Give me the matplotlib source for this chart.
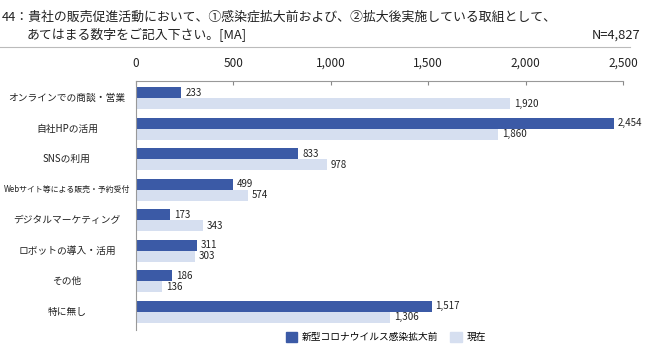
import matplotlib.pyplot as plt
from matplotlib.patches import Patch
from matplotlib.lines import Line2D

plt.rcParams['font.family'] = ['Noto Sans CJK JP', 'DejaVu Sans']

categories = ["オンラインでの商談・営業", "自社HPの活用", "SNSの利用",
              "Webサイト等による販売・予約受付", "デジタルマーケティング",
              "ロボットの導入・活用", "その他", "特に無し"]
before = [233, 2454, 833, 499, 173, 311, 186, 1517]
now = [1920, 1860, 978, 574, 343, 303, 136, 1306]
xticks = [0, 500, 1000, 1500, 2000, 2500]

dark = "#3b5aa6"
light = "#d6dff0"
txt = "#222222"

fig = plt.figure(figsize=(6.72, 3.52), dpi=100)
W, H = 672, 352
ax = fig.add_axes([136 / W, 1 - 330 / H, (623 - 136) / W, (330 - 81) / H])

h = 0.36
ys = list(range(len(categories)))
ax.barh([y - h / 2 for y in ys], before, height=h, color=dark)
ax.barh([y + h / 2 for y in ys], now, height=h, color=light)

for y, b, n in zip(ys, before, now):
    ax.text(b + 20, y - h / 2, f"{b:,}", va="center", ha="left", fontsize=7, color=txt)
    ax.text(n + 20, y + h / 2, f"{n:,}", va="center", ha="left", fontsize=7, color=txt)

ax.set_xlim(0, 2500)
ax.set_ylim(7.6, -0.57)
ax.xaxis.tick_top()
ax.set_xticks(xticks)
ax.set_xticklabels([f"{t:,}" for t in xticks], fontsize=8.5, color=txt)
ax.tick_params(axis="x", direction="in", length=3, color="#888888", pad=8)
ax.set_yticks([])
for s in ["right", "bottom"]:
    ax.spines[s].set_visible(False)
for s in ["top", "left"]:
    ax.spines[s].set_color("#999999")
    ax.spines[s].set_linewidth(0.8)

# category labels centred in the left margin
for y, c in zip(ys, categories):
    yp = ax.transData.transform((0, y))[1]
    fs = 5.7 if len(c) > 14 else 7
    fig.text(67 / W, yp / H, c, ha="center", va="center", fontsize=fs, color=txt)

fig.text(2 / W, 1 - 17 / H, "44：貴社の販売促進活動において、①感染症拡大前および、②拡大後実施している取組として、",
         fontsize=9.3, va="center", ha="left", color=txt)
fig.text(27 / W, 1 - 35 / H, "あてはまる数字をご記入下さい。[MA]",
         fontsize=9.3, va="center", ha="left", color=txt)
fig.text(640 / W, 1 - 35 / H, "N=4,827", fontsize=9.3, va="center", ha="right", color=txt)
fig.add_artist(Line2D([0, 630 / W], [1 - 47 / H, 1 - 47 / H], color="#bbbbbb", lw=0.8))

handles = [Patch(color=dark), Patch(color=light)]
fig.legend(handles, ["新型コロナウイルス感染拡大前", "現在"], loc="center",
           bbox_to_anchor=(386 / W, 1 - 337 / H), ncol=2, frameon=False, fontsize=7,
           handlelength=1.2, handleheight=1.2, columnspacing=1.2, handletextpad=0.5)

fig.savefig("out.png", dpi=100)
